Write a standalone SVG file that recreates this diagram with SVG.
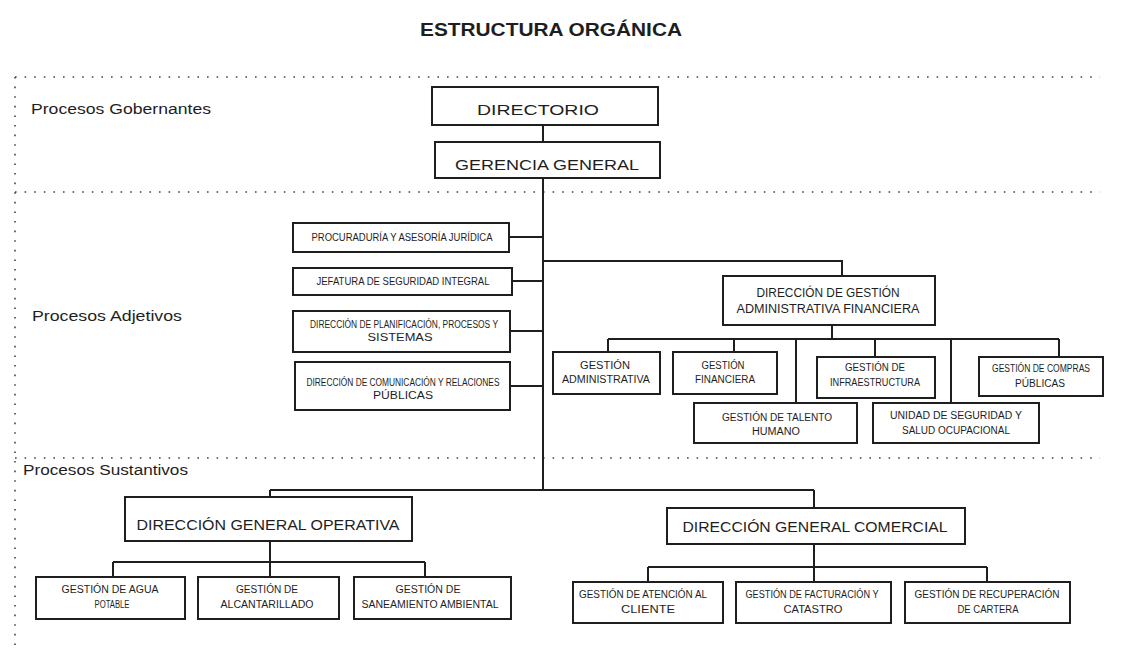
<svg xmlns="http://www.w3.org/2000/svg" width="1121" height="649" viewBox="0 0 1121 649">
<style>
.bg{fill:#ffffff}
.box{fill:#ffffff;stroke:#1e1e1e;stroke-width:2}
.conn{fill:none;stroke:#1e1e1e;stroke-width:2}
.sep{fill:none;stroke:#444;stroke-width:1.6;stroke-dasharray:1.6 8}
.t{font-family:"Liberation Sans Narrow","Liberation Sans",Arial,sans-serif;fill:#1e1e1e;text-anchor:middle;lengthAdjust:spacingAndGlyphs}
.lbl{font-family:"Liberation Sans Narrow","Liberation Sans",Arial,sans-serif;fill:#1e1e1e;font-size:14px}
.s10{font-size:10px}
.s11{font-size:11px}
.s12{font-size:12px}
.s15{font-size:15px}
</style>
<rect class="bg" x="0" y="0" width="1121" height="649"/>
<text x="551" y="36" class="t" font-size="18" font-weight="bold" textLength="262" lengthAdjust="spacingAndGlyphs">ESTRUCTURA ORGÁNICA</text>

<g id="regions">
<path class="sep" d="M15 77 H1100 M15 192 H1100 M15 458 H1100 M15 77 V645"/>
<text class="lbl" x="31" y="114" textLength="180" lengthAdjust="spacingAndGlyphs">Procesos Gobernantes</text>
<text class="lbl" x="32" y="321" textLength="150" lengthAdjust="spacingAndGlyphs">Procesos Adjetivos</text>
<text class="lbl" x="23" y="475" font-size="13" textLength="165" lengthAdjust="spacingAndGlyphs">Procesos Sustantivos</text>
</g>

<g id="connectors">
<path class="conn" d="M543 125 V142"/>
<path class="conn" d="M543 178 V490"/>
<path class="conn" d="M509 237 H543 M512 281 H543 M510 331 H543 M510 386 H543"/>
<path class="conn" d="M543 261 H842 V276"/>
<path class="conn" d="M832 325 V339 M608 339 H1059 M608 339 V352 M734 339 V352 M796 339 V403 M875 339 V357 M951 339 V403 M1059 339 V357"/>
<path class="conn" d="M270 490 H814 M270 490 V497 M814 490 V508"/>
<path class="conn" d="M270 541 V577 M113 562 H425 M113 562 V577 M425 562 V577"/>
<path class="conn" d="M814 544 V582 M648 567 H987 M648 567 V582 M987 567 V582"/>
</g>

<g id="directorio">
<rect class="box" x="432" y="87" width="226" height="38"/>
<text class="t s15" x="538" y="115" font-size="16" textLength="122" lengthAdjust="spacingAndGlyphs">DIRECTORIO</text>
</g>
<g id="gerencia-general">
<rect class="box" x="435" y="142" width="225" height="36"/>
<text class="t s15" x="547" y="170" textLength="184" lengthAdjust="spacingAndGlyphs">GERENCIA GENERAL</text>
</g>

<g id="adj-a">
<rect class="box" x="293" y="223" width="216" height="29"/>
<text class="t s10" x="402" y="241" textLength="181" lengthAdjust="spacingAndGlyphs">PROCURADURÍA Y ASESORÍA JURÍDICA</text>
</g>
<g id="adj-b">
<rect class="box" x="293" y="268" width="219" height="27"/>
<text class="t s10" x="403" y="285" textLength="173" lengthAdjust="spacingAndGlyphs">JEFATURA DE SEGURIDAD INTEGRAL</text>
</g>
<g id="adj-c">
<rect class="box" x="293" y="311" width="217" height="41"/>
<text class="t s10" x="404" y="328" textLength="188" lengthAdjust="spacingAndGlyphs">DIRECCIÓN DE PLANIFICACIÓN, PROCESOS Y</text>
<text class="t s10" x="400" y="341" textLength="65" lengthAdjust="spacingAndGlyphs">SISTEMAS</text>
</g>
<g id="adj-d">
<rect class="box" x="295" y="362" width="215" height="48"/>
<text class="t s10" x="403" y="386" textLength="193" lengthAdjust="spacingAndGlyphs">DIRECCIÓN DE COMUNICACIÓN Y RELACIONES</text>
<text class="t s10" x="403" y="399" textLength="60" lengthAdjust="spacingAndGlyphs">PÚBLICAS</text>
</g>

<g id="dir-admin">
<rect class="box" x="723" y="276" width="212" height="49"/>
<text class="t s12" x="828" y="297" textLength="143" lengthAdjust="spacingAndGlyphs">DIRECCIÓN DE GESTIÓN</text>
<text class="t s12" x="828" y="313" textLength="183" lengthAdjust="spacingAndGlyphs">ADMINISTRATIVA FINANCIERA</text>
</g>
<g id="g-administrativa">
<rect class="box" x="553" y="352" width="107" height="42"/>
<text class="t s10" x="605" y="369" textLength="50" lengthAdjust="spacingAndGlyphs">GESTIÓN</text>
<text class="t s10" x="606" y="383" textLength="88" lengthAdjust="spacingAndGlyphs">ADMINISTRATIVA</text>
</g>
<g id="g-financiera">
<rect class="box" x="673" y="352" width="104" height="42"/>
<text class="t s10" x="723" y="369" textLength="43" lengthAdjust="spacingAndGlyphs">GESTIÓN</text>
<text class="t s10" x="725" y="383" textLength="60" lengthAdjust="spacingAndGlyphs">FINANCIERA</text>
</g>
<g id="g-infra">
<rect class="box" x="817" y="357" width="118" height="41"/>
<text class="t s10" x="875" y="371" textLength="60" lengthAdjust="spacingAndGlyphs">GESTIÓN DE</text>
<text class="t s10" x="875" y="386" textLength="90" lengthAdjust="spacingAndGlyphs">INFRAESTRUCTURA</text>
</g>
<g id="g-compras">
<rect class="box" x="979" y="357" width="124" height="39"/>
<text class="t s10" x="1041" y="372" textLength="98" lengthAdjust="spacingAndGlyphs">GESTIÓN DE COMPRAS</text>
<text class="t s10" x="1040" y="387" textLength="50" lengthAdjust="spacingAndGlyphs">PÚBLICAS</text>
</g>
<g id="g-talento">
<rect class="box" x="694" y="403" width="163" height="40"/>
<text class="t s10" x="777" y="421" textLength="110" lengthAdjust="spacingAndGlyphs">GESTIÓN DE TALENTO</text>
<text class="t s10" x="776" y="435" textLength="48" lengthAdjust="spacingAndGlyphs">HUMANO</text>
</g>
<g id="g-seguridad">
<rect class="box" x="873" y="403" width="166" height="40"/>
<text class="t s10" x="956" y="419" textLength="132" lengthAdjust="spacingAndGlyphs">UNIDAD DE SEGURIDAD Y</text>
<text class="t s10" x="956" y="434" textLength="108" lengthAdjust="spacingAndGlyphs">SALUD OCUPACIONAL</text>
</g>

<g id="dir-operativa">
<rect class="box" x="125" y="497" width="287" height="44"/>
<text class="t s15" x="268" y="530" textLength="263" lengthAdjust="spacingAndGlyphs">DIRECCIÓN GENERAL OPERATIVA</text>
</g>
<g id="op-1">
<rect class="box" x="36" y="577" width="149" height="42"/>
<text class="t s10" x="110" y="593" textLength="97" lengthAdjust="spacingAndGlyphs">GESTIÓN DE AGUA</text>
<text class="t s10" x="112" y="608" textLength="35" lengthAdjust="spacingAndGlyphs">POTABLE</text>
</g>
<g id="op-2">
<rect class="box" x="198" y="577" width="141" height="42"/>
<text class="t s10" x="267" y="593" textLength="62" lengthAdjust="spacingAndGlyphs">GESTIÓN DE</text>
<text class="t s10" x="267" y="608" textLength="93" lengthAdjust="spacingAndGlyphs">ALCANTARILLADO</text>
</g>
<g id="op-3">
<rect class="box" x="354" y="577" width="157" height="42"/>
<text class="t s10" x="428" y="593" textLength="65" lengthAdjust="spacingAndGlyphs">GESTIÓN DE</text>
<text class="t s10" x="430" y="608" textLength="137" lengthAdjust="spacingAndGlyphs">SANEAMIENTO AMBIENTAL</text>
</g>

<g id="dir-comercial">
<rect class="box" x="667" y="508" width="298" height="36"/>
<text class="t s15" x="815" y="532" textLength="265" lengthAdjust="spacingAndGlyphs">DIRECCIÓN GENERAL COMERCIAL</text>
</g>
<g id="com-1">
<rect class="box" x="573" y="582" width="150" height="41"/>
<text class="t s10" x="643" y="598" textLength="128" lengthAdjust="spacingAndGlyphs">GESTIÓN DE ATENCIÓN AL</text>
<text class="t s10" x="648" y="613" textLength="54" lengthAdjust="spacingAndGlyphs">CLIENTE</text>
</g>
<g id="com-2">
<rect class="box" x="736" y="582" width="155" height="41"/>
<text class="t s10" x="812" y="598" textLength="133" lengthAdjust="spacingAndGlyphs">GESTIÓN DE FACTURACIÓN Y</text>
<text class="t s10" x="813" y="613" textLength="59" lengthAdjust="spacingAndGlyphs">CATASTRO</text>
</g>
<g id="com-3">
<rect class="box" x="905" y="582" width="165" height="41"/>
<text class="t s10" x="987" y="598" textLength="145" lengthAdjust="spacingAndGlyphs">GESTIÓN DE RECUPERACIÓN</text>
<text class="t s10" x="988" y="613" textLength="61" lengthAdjust="spacingAndGlyphs">DE CARTERA</text>
</g>
</svg>
